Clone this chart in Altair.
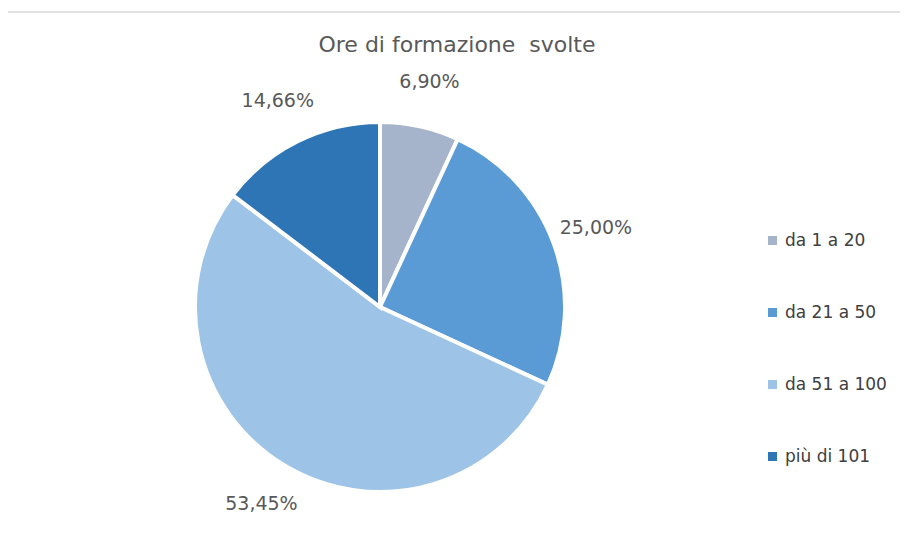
import altair as alt
import pandas as pd

categories = ["da 1 a 20", "da 21 a 50", "da 51 a 100", "più di 101"]
values = [6.90, 25.00, 53.45, 14.66]
colors = ["#A5B4CB", "#5B9BD5", "#9DC3E6", "#2E75B6"]
title_text = "Ore di formazione  svolte"

df = pd.DataFrame({
    "cat": categories,
    "val": values,
    "order": list(range(len(categories))),
    "label": [f"{v:.2f}".replace(".", ",") + "%" for v in values],
})
one = pd.DataFrame({"a": [0]})

W, H = 892, 536
cx, cy = 372, 299
FONT = "DejaVu Sans"

base = alt.Chart(df).encode(
    theta=alt.Theta("val:Q", stack=True),
    order=alt.Order("order:Q"),
)

color = alt.Color(
    "cat:N",
    scale=alt.Scale(domain=categories, range=colors),
    sort=categories,
    legend=alt.Legend(
        title=None, orient="none", legendX=756, legendY=224,
        symbolType="square", symbolSize=81, symbolStrokeWidth=0,
        labelFontSize=17, labelFont=FONT, labelColor="#404040",
        rowPadding=54, labelOffset=4,
    ),
)

pie = base.mark_arc(outerRadius=185, stroke="white", strokeWidth=4).encode(
    color=color, x=alt.value(cx), y=alt.value(cy)
)
labels = base.mark_text(radius=230, fontSize=19, font=FONT, color="#595959").encode(
    text="label:N", x=alt.value(cx), y=alt.value(cy)
)
title = alt.Chart(one).mark_text(fontSize=22, font=FONT, color="#595959").encode(
    text=alt.value(title_text.replace("  ", " \u00a0")), x=alt.value(449), y=alt.value(37)
)
top_rule = alt.Chart(one).mark_rule(color="#D9D9D9", strokeWidth=1.5).encode(
    x=alt.value(0), x2=alt.value(W + 20), y=alt.value(4)
)

chart = alt.layer(top_rule, pie, labels, title).properties(
    width=W, height=H,
    autosize=alt.AutoSizeParams(type="none"),
    padding=0,
    background="white",
).configure_view(stroke=None)

chart.save("out.html", embed_options={"renderer": "svg", "actions": False})
